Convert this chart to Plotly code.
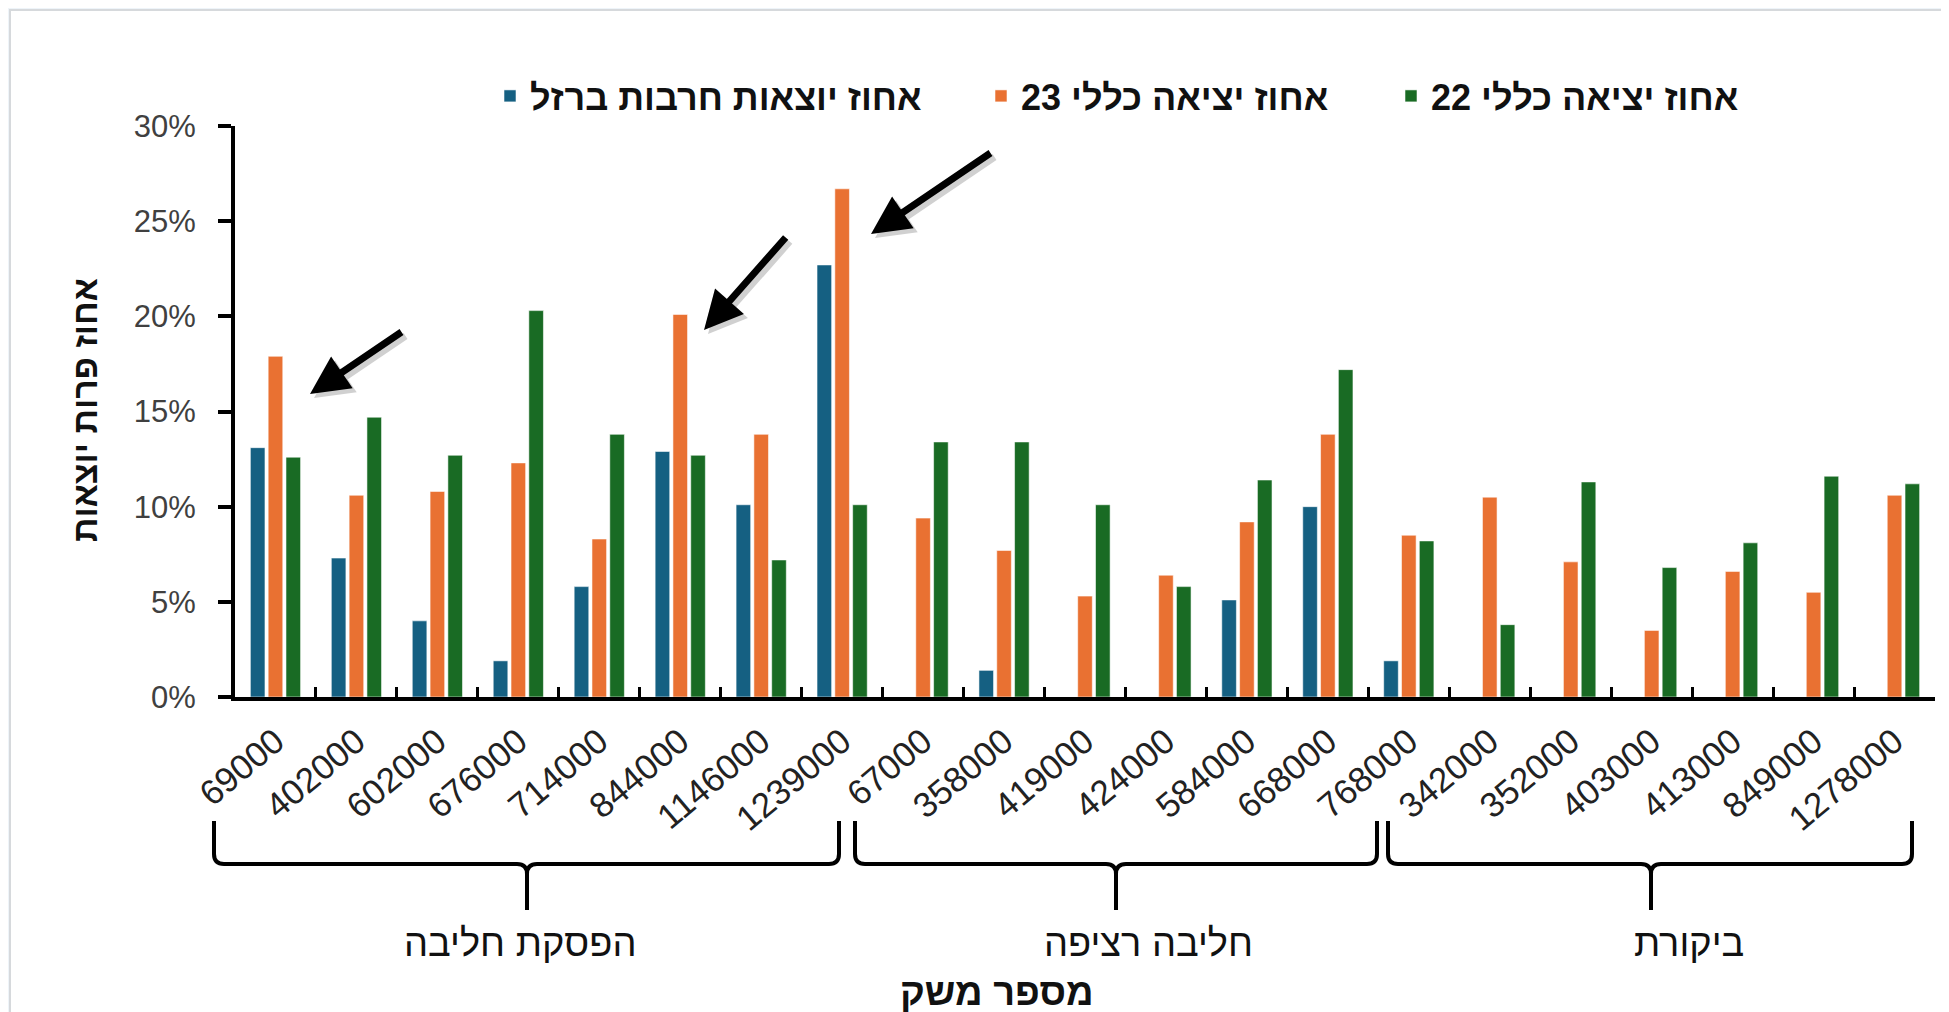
"""Exit rates per farm (Hebrew dairy chart), rebuilt with Plotly."""

import plotly.graph_objects as go

W, H = 1949, 1012
BODY_MARGIN = 8  # the page body keeps its default margin

# ---- data -----------------------------------------------------------

FARMS = [
    "69000", "402000", "602000", "676000", "714000", "844000", "1146000", "1239000",
    "67000", "358000", "419000", "424000", "584000", "668000", "768000",
    "342000", "352000", "403000", "413000", "849000", "1278000",
]

# % exits, war ("Iron Swords") period; None = no bar
IRON_SWORDS = [13.1, 7.3, 4.0, 1.9, 5.8, 12.9, 10.1, 22.7,
               None, 1.4, None, None, 5.1, 10.0, 1.9,
               None, None, None, None, None, None]
TOTAL_23 = [17.9, 10.6, 10.8, 12.3, 8.3, 20.1, 13.8, 26.7,
            9.4, 7.7, 5.3, 6.4, 9.2, 13.8, 8.5,
            10.5, 7.1, 3.5, 6.6, 5.5, 10.6]
TOTAL_22 = [12.6, 14.7, 12.7, 20.3, 13.8, 12.7, 7.2, 10.1,
            13.4, 13.4, 10.1, 5.8, 11.4, 17.2, 8.2,
            3.8, 11.3, 6.8, 8.1, 11.6, 11.2]

SERIES_NAMES = ["אחוז יוצאות חרבות ברזל", "אחוז יציאה כללי 23", "אחוז יציאה כללי 22"]
SERIES_COLORS = ["#156082", "#E97132", "#196B24"]

GROUP_NAMES = ["הפסקת חליבה", "חליבה רציפה", "ביקורת"]

Y_TITLE = "אחוז פרות יוצאות"
X_TITLE = "מספר משק"

# ---- geometry (page pixels of the 1949x1012 shot) ---------------------

PLOT_L, PLOT_R, PLOT_T, PLOT_B = 235, 1935, 126, 697


def px_x(x):
    return (x - PLOT_L) / (PLOT_R - PLOT_L)


def px_y(y):
    return (PLOT_B - y) / (PLOT_B - PLOT_T)


# brace spans under the tick labels: (left, centre, right) in px
BRACES = [(214, 527, 839), (855, 1116, 1377), (1388, 1651, 1912)]
GROUP_LABEL_X = [520, 1148, 1689]
BRACE_TOP, BRACE_MID, BRACE_TIP = 821, 864, 910

# arrows: (head x, head y, tail x, tail y) in px
ARROWS = [(310, 394, 403, 331), (704, 330, 787, 236), (871, 234, 992, 152)]

FONT = "Liberation Sans, Arial, sans-serif"

fig = go.Figure()

for i, (name, vals, color) in enumerate(zip(SERIES_NAMES, [IRON_SWORDS, TOTAL_23, TOTAL_22], SERIES_COLORS)):
    fig.add_trace(go.Bar(
        x=FARMS,
        y=[None if v is None else v / 100 for v in vals],
        name=name,
        marker=dict(color=color, line=dict(color="rgba(255,255,255,0.55)", width=1)),
        legend="legend" if i == 0 else f"legend{i + 1}",
        showlegend=True,
    ))

legend_style = dict(
    orientation="h", yanchor="middle", xanchor="left", y=px_y(96),
    font=dict(family=FONT, size=36, color="#111111", weight="bold"),
    bgcolor="rgba(0,0,0,0)", visible=True,
)

# white card on a pale background
shapes = [dict(
    type="rect", xref="paper", yref="paper", layer="below",
    x0=px_x(10), x1=px_x(W + 40), y0=px_y(H + 40), y1=px_y(10),
    fillcolor="white", line=dict(color="#d6d9dc", width=2),
)]

# curly braces grouping the farms
for (xl, xc, xr) in BRACES:
    r = 10
    path = (
        f"M{px_x(xl)},{px_y(BRACE_TOP)} "
        f"L{px_x(xl)},{px_y(BRACE_MID - r)} "
        f"Q{px_x(xl)},{px_y(BRACE_MID)} {px_x(xl + r)},{px_y(BRACE_MID)} "
        f"L{px_x(xc - r)},{px_y(BRACE_MID)} "
        f"Q{px_x(xc)},{px_y(BRACE_MID)} {px_x(xc)},{px_y(BRACE_MID + r)} "
        f"L{px_x(xc)},{px_y(BRACE_TIP)} "
        f"M{px_x(xc)},{px_y(BRACE_MID + r)} "
        f"Q{px_x(xc)},{px_y(BRACE_MID)} {px_x(xc + r)},{px_y(BRACE_MID)} "
        f"L{px_x(xr - r)},{px_y(BRACE_MID)} "
        f"Q{px_x(xr)},{px_y(BRACE_MID)} {px_x(xr)},{px_y(BRACE_MID - r)} "
        f"L{px_x(xr)},{px_y(BRACE_TOP)}"
    )
    shapes.append(dict(type="path", xref="paper", yref="paper", path=path,
                       line=dict(color="black", width=4)))

annotations = []
for name, gx in zip(GROUP_NAMES, GROUP_LABEL_X):
    annotations.append(dict(
        text=name, xref="paper", yref="paper", x=px_x(gx), y=px_y(943),
        showarrow=False, xanchor="center", yanchor="middle",
        font=dict(family=FONT, size=38, color="#111111"),
    ))

annotations.append(dict(
    text=X_TITLE, xref="paper", yref="paper", x=px_x(997), y=px_y(992),
    showarrow=False, xanchor="center", yanchor="middle",
    font=dict(family=FONT, size=38, color="#111111", weight="bold"),
))
annotations.append(dict(
    text=Y_TITLE, xref="paper", yref="paper", x=px_x(85), y=px_y(410),
    showarrow=False, xanchor="center", yanchor="middle", textangle=-90,
    font=dict(family=FONT, size=34, color="#111111", weight="bold"),
))

for hx, hy, tx, ty in ARROWS:
    for dx, col in ((4, "rgba(0,0,0,0.18)"), (0, "black")):
        annotations.append(dict(
            text="", xref="paper", yref="paper", x=px_x(hx + dx), y=px_y(hy + dx),
            ax=tx - hx, ay=ty - hy, showarrow=True,
            arrowhead=2, arrowsize=1.1, arrowwidth=7, arrowcolor=col,
            standoff=0, startstandoff=0,
        ))

fig.update_layout(
    width=W - BODY_MARGIN, height=H - BODY_MARGIN,
    margin=dict(l=PLOT_L - BODY_MARGIN, r=W - PLOT_R, t=PLOT_T - BODY_MARGIN, b=H - PLOT_B),
    paper_bgcolor="#eef4f9",
    plot_bgcolor="rgba(0,0,0,0)",
    showlegend=True,
    barmode="group", bargap=0.34, bargroupgap=0.18,
    font=dict(family=FONT, color="#333333"),
    legend=dict(legend_style, x=px_x(490)),
    legend2=dict(legend_style, x=px_x(981)),
    legend3=dict(legend_style, x=px_x(1391)),
    shapes=shapes,
    annotations=annotations,
    xaxis=dict(
        type="category", showgrid=False, showline=True, linecolor="black", linewidth=4,
        ticks="inside", tickson="boundaries", ticklen=10, tickwidth=3, tickcolor="black",
        tickangle=-40, tickfont=dict(family=FONT, size=35, color="#222222"),
        ticklabelstandoff=6,
    ),
    yaxis=dict(
        range=[0, 0.30], dtick=0.05, tickformat=".0%", showgrid=False, zeroline=False,
        showline=True, linecolor="black", linewidth=4,
        ticks="outside", ticklen=13, tickwidth=4, tickcolor="black",
        tickfont=dict(family=FONT, size=31, color="#404040"),
        ticklabelstandoff=16,
    ),
)

fig.write_html("out.html")
